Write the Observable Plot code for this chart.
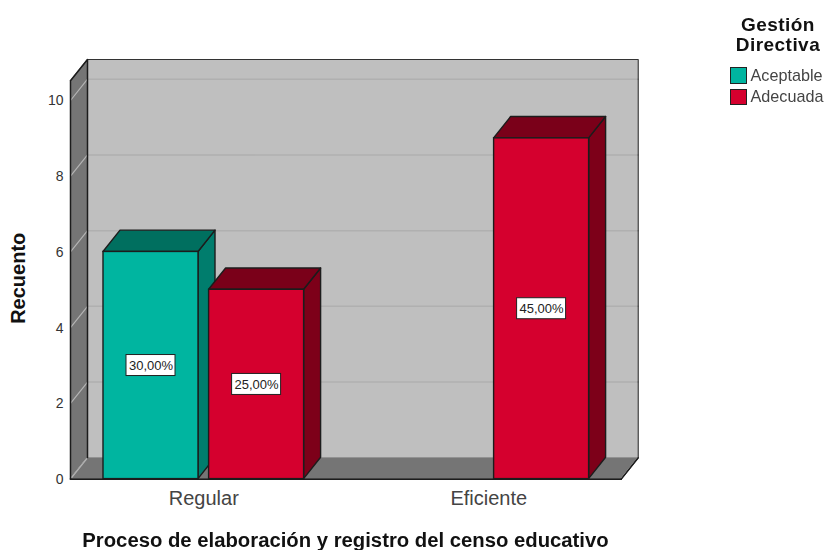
<!DOCTYPE html>
<html><head><meta charset="utf-8">
<script src="https://cdn.jsdelivr.net/npm/d3@7"></script>
<script src="https://cdn.jsdelivr.net/npm/@observablehq/plot@0.6"></script>
<style>
html,body{margin:0;padding:0;background:#fff;}
body{width:826px;height:550px;position:relative;overflow:hidden;font-family:"Liberation Sans",Arial,sans-serif;}
#chart svg{display:block;filter:blur(0.35px);}
#legend{position:absolute;left:722px;top:15px;width:104px;color:#222;filter:blur(0.3px);}
#legend .t{font-weight:bold;font-size:19px;line-height:20px;text-align:center;width:112px;margin-left:0;letter-spacing:.45px;color:#111;}
#legend .r{display:flex;align-items:center;height:21.5px;font-size:16.2px;color:#444;margin-left:8px;white-space:nowrap;}
#legend .s{width:14.5px;height:14.5px;border:1px solid #222;margin-right:4px;flex:none;}
#legend .rows{margin-top:9.5px;}
</style></head><body>
<div id="chart"></div>
<div id="legend"></div>
<script>
// Data
const categories = ["Regular", "Eficiente"];
const seriesNames = ["Aceptable", "Adecuada"];
const barCategory = ["Regular", "Regular", "Eficiente"];
const barSeries = ["Aceptable", "Adecuada", "Adecuada"];
const barCounts = [6, 5, 9];
const barPercents = ["30,00%", "25,00%", "45,00%"];
const yTicks = [0, 2, 4, 6, 8, 10];

// Colours
const front = {Aceptable: "#00B5A0", Adecuada: "#D5002E"};
const top3d = {Aceptable: "#006F5F", Adecuada: "#7A0019"};
const side3d = {Aceptable: "#007D6D", Adecuada: "#7D0019"};

// Oblique projection, in data units of the x (category index) and y (count) scales
const pxX = 285, pxY = 37.86;
const dx = 17 / pxX, dy = 21.3 / pxY;
const barW = 95 / pxX, gap = 10.6 / pxX;
const xL = (70 - 203.3) / pxX, xR = (637.7 - 203.3) / pxX;
const yT = (478.6 - 59) / pxY;
const ink = "#1c1c1c";

const bars = barCounts.map((v, i) => {
  const c = categories.indexOf(barCategory[i]);
  const s = seriesNames.indexOf(barSeries[i]);
  const x1 = s === 0 ? c - gap / 2 - barW : c + gap / 2;
  return {x1, x2: x1 + barW, v, s: barSeries[i], label: barPercents[i]};
});

// parallelogram with vertical ends
const vFace = (xa, xb, y1a, y2a, opt) => Plot.areaY([{x: xa, y1: y1a, y2: y2a}, {x: xb, y1: y1a + dy, y2: y2a + dy}], {x: "x", y1: "y1", y2: "y2", ...opt});
// parallelogram with horizontal ends
const hFace = (x1a, x2a, ya, opt) => Plot.areaX([{y: ya, x1: x1a, x2: x2a}, {y: ya + dy, x1: x1a + dx, x2: x2a + dx}], {y: "y", x1: "x1", x2: "x2", ...opt});
const seg = (pts, opt) => Plot.line(pts, {x: d => d[0], y: d => d[1], ...opt});

const marks = [
  // back wall
  Plot.rect([0], {x1: xL + dx, x2: xR, y1: dy, y2: yT, fill: "#BFBFBF"}),
  ...yTicks.slice(1).map(t => seg([[xL + dx, t + dy], [xR, t + dy]], {stroke: "#B0B0B0", strokeWidth: 1.5})),
  seg([[xL + dx, yT], [xR, yT], [xR, dy], [xR - dx, 0]], {stroke: "#333", strokeWidth: 1.2}),
  // floor
  hFace(xL, xR - dx, 0, {fill: "#757575"}),
  seg([[xR, dy], [xR - dx, 0]], {stroke: ink, strokeWidth: 1.4}),
  // left wall
  vFace(xL, xL + dx, 0, yT - dy, {fill: "#757575"}),
  ...yTicks.map(t => seg([[xL, t], [xL + dx, t + dy]], {stroke: "#B4B4B4", strokeWidth: 1.2})),
  seg([[xL, 0], [xL, yT - dy], [xL + dx, yT], [xL + dx, dy]], {stroke: ink, strokeWidth: 1.5}),
  seg([[xL, 0], [xR - dx, 0]], {stroke: ink, strokeWidth: 1.8}),
  // bars, back to front
  ...bars.flatMap(b => [
    vFace(b.x2, b.x2 + dx, 0, b.v, {fill: side3d[b.s], stroke: ink, strokeWidth: 1.4}),
    hFace(b.x1, b.x2, b.v, {fill: top3d[b.s], stroke: ink, strokeWidth: 1.4}),
    Plot.rect([b], {x1: "x1", x2: "x2", y1: 0, y2: "v", fill: front[b.s], stroke: ink, strokeWidth: 1.4})
  ]),
  // value labels
  Plot.rect(bars, {
    x1: d => (d.x1 + d.x2) / 2, x2: d => (d.x1 + d.x2) / 2,
    y1: d => d.v / 2, y2: d => d.v / 2,
    insetLeft: -24.5, insetRight: -24.5, insetTop: -10.5, insetBottom: -10.5,
    fill: "white", stroke: "#222", strokeWidth: 1
  }),
  Plot.text(bars, {
    x: d => (d.x1 + d.x2) / 2, y: d => d.v / 2, text: "label",
    fontSize: 13, fill: "#222", dy: 0.5
  }),
  // axes
  Plot.axisY({ticks: yTicks, tickSize: 0, tickPadding: 7, label: null, fontSize: 14, color: "#333", anchor: "left", dy: 0.5}),
  Plot.axisX({ticks: [0, 1], tickFormat: i => categories[i], tickSize: 0, tickPadding: 12, label: null, fontSize: 20, color: "#444", anchor: "bottom"}),
  Plot.text(["Proceso de elaboración y registro del censo educativo"], {
    frameAnchor: "bottom", dx: 345 - (70 + 637.7) / 2, dy: 68, fontSize: 20.3, fontWeight: "bold", fill: "#111", lineAnchor: "bottom"
  }),
  Plot.text(["Recuento"], {
    frameAnchor: "left", textAnchor: "middle", dx: -52, dy: 9, rotate: -90, fontSize: 20, fontWeight: "bold", fill: "#111"
  })
];

const chart = Plot.plot({
  width: 826, height: 550,
  marginLeft: 70, marginRight: 826 - 637.7, marginTop: 59, marginBottom: 550 - 478.6,
  style: {fontFamily: '"Liberation Sans", Arial, sans-serif', background: "white", overflow: "visible"},
  x: {type: "linear", domain: [xL, xR], axis: null},
  y: {type: "linear", domain: [0, yT], axis: null},
  marks
});
document.getElementById("chart").append(chart);

// Legend
const lg = document.getElementById("legend");
lg.innerHTML = `<div class="t">Gestión<br>Directiva</div><div class="rows">` +
  seriesNames.map(n => `<div class="r"><span class="s" style="background:${front[n]}"></span>${n}</div>`).join("") + `</div>`;
</script>
</body></html>
